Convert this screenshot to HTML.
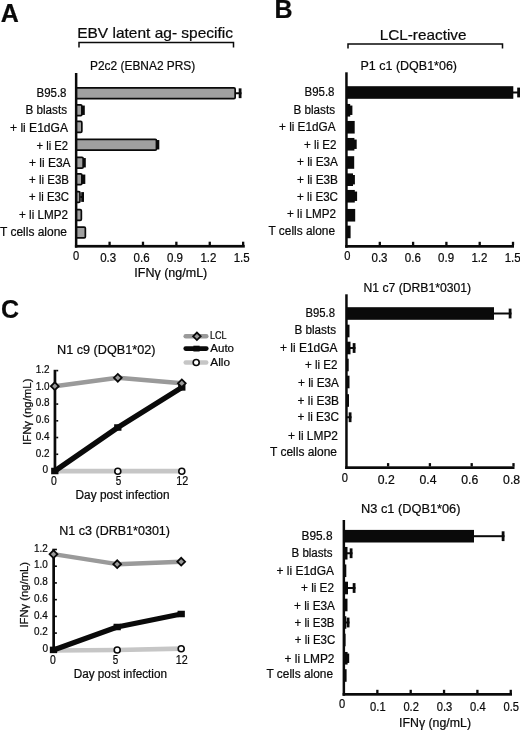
<!DOCTYPE html>
<html lang="en">
<head>
<meta charset="utf-8">
<title>Figure</title>
<style>
html,body{margin:0;padding:0;background:#fff;}
body{width:520px;height:731px;overflow:hidden;}
svg{display:block;}
svg text{font-family:"Liberation Sans",sans-serif;fill:#0a0a0a;stroke:#0a0a0a;stroke-width:0.22px;}
</style>
</head>
<body>
<svg width="520" height="731" viewBox="0 0 520 731">
<rect x="0" y="0" width="520" height="731" fill="#ffffff"/>
<text x="0.8" y="21.7" font-size="25" font-weight="bold" stroke="none">A</text>
<text x="274.4" y="18.1" font-size="25" font-weight="bold" stroke="none">B</text>
<text x="1.0" y="317.9" font-size="25" font-weight="bold" stroke="none">C</text>
<text x="77.2" y="38.4" font-size="15" textLength="155.8" lengthAdjust="spacingAndGlyphs">EBV latent ag- specific</text>
<path d="M79 47.5V42.5H233.5V47.5" fill="none" stroke="#0a0a0a" stroke-width="1.5"/>
<text x="379.7" y="39.6" font-size="15" textLength="86.8" lengthAdjust="spacingAndGlyphs">LCL-reactive</text>
<path d="M348 48.5V44H502.5V48.5" fill="none" stroke="#0a0a0a" stroke-width="1.5"/>
<text x="90.0" y="69.8" font-size="12.5" textLength="105.3" lengthAdjust="spacingAndGlyphs">P2c2 (EBNA2 PRS)</text>
<text x="36.5" y="96.9" font-size="12" textLength="30.0" lengthAdjust="spacingAndGlyphs">B95.8</text>
<text x="25.5" y="114.0" font-size="12" textLength="41.5" lengthAdjust="spacingAndGlyphs">B blasts</text>
<text x="10.0" y="132.0" font-size="12" textLength="58.0" lengthAdjust="spacingAndGlyphs">+ li E1dGA</text>
<text x="36.5" y="149.5" font-size="12" textLength="31.5" lengthAdjust="spacingAndGlyphs">+ li E2</text>
<text x="29.0" y="167.0" font-size="12" textLength="41.5" lengthAdjust="spacingAndGlyphs">+ li E3A</text>
<text x="29.0" y="184.0" font-size="12" textLength="40.0" lengthAdjust="spacingAndGlyphs">+ li E3B</text>
<text x="29.0" y="201.0" font-size="12" textLength="40.0" lengthAdjust="spacingAndGlyphs">+ li E3C</text>
<text x="19.0" y="219.0" font-size="12" textLength="49.0" lengthAdjust="spacingAndGlyphs">+ li LMP2</text>
<text x="0.0" y="235.5" font-size="12" textLength="67.0" lengthAdjust="spacingAndGlyphs">T cells alone</text>
<line x1="235.50" y1="93.25" x2="241.50" y2="93.25" stroke="#0a0a0a" stroke-width="2.0" stroke-linecap="butt"/>
<line x1="240.10" y1="88.35" x2="240.10" y2="98.15" stroke="#0a0a0a" stroke-width="2.8" stroke-linecap="butt"/>
<rect x="75.90" y="87.80" width="159.25" height="10.90" rx="1.2" fill="#a0a0a0" stroke="#0a0a0a" stroke-width="1.7"/>
<rect x="81.90" y="105.55" width="2.90" height="9.40" fill="#0a0a0a"/>
<rect x="75.90" y="104.80" width="5.95" height="10.90" rx="1.2" fill="#a0a0a0" stroke="#0a0a0a" stroke-width="1.7"/>
<rect x="75.90" y="121.45" width="5.95" height="10.90" rx="1.2" fill="#a0a0a0" stroke="#0a0a0a" stroke-width="1.7"/>
<rect x="156.50" y="140.05" width="2.80" height="9.40" fill="#0a0a0a"/>
<rect x="75.90" y="139.30" width="80.55" height="10.90" rx="1.2" fill="#a0a0a0" stroke="#0a0a0a" stroke-width="1.7"/>
<rect x="83.20" y="158.05" width="2.60" height="9.40" fill="#0a0a0a"/>
<rect x="75.90" y="157.30" width="7.25" height="10.90" rx="1.2" fill="#a0a0a0" stroke="#0a0a0a" stroke-width="1.7"/>
<rect x="81.90" y="174.55" width="3.40" height="9.40" fill="#0a0a0a"/>
<rect x="75.90" y="173.80" width="5.95" height="10.90" rx="1.2" fill="#a0a0a0" stroke="#0a0a0a" stroke-width="1.7"/>
<line x1="80.30" y1="197.00" x2="84.00" y2="197.00" stroke="#0a0a0a" stroke-width="2.0" stroke-linecap="butt"/>
<line x1="82.60" y1="192.10" x2="82.60" y2="201.90" stroke="#0a0a0a" stroke-width="2.8" stroke-linecap="butt"/>
<rect x="75.90" y="191.55" width="4.05" height="10.90" rx="1.2" fill="#a0a0a0" stroke="#0a0a0a" stroke-width="1.7"/>
<rect x="75.90" y="209.55" width="5.45" height="10.90" rx="1.2" fill="#a0a0a0" stroke="#0a0a0a" stroke-width="1.7"/>
<rect x="75.90" y="227.05" width="9.45" height="10.90" rx="1.2" fill="#a0a0a0" stroke="#0a0a0a" stroke-width="1.7"/>
<rect x="74.90" y="73.00" width="2.50" height="174.60" fill="#0a0a0a"/>
<rect x="74.90" y="244.90" width="169.90" height="2.70" fill="#0a0a0a"/>
<text x="72.9" y="259.7" font-size="12" textLength="6.2" lengthAdjust="spacingAndGlyphs">0</text>
<rect x="108.44" y="241.70" width="2.30" height="3.40" fill="#0a0a0a"/>
<text x="100.2" y="261.5" font-size="12" textLength="16.0" lengthAdjust="spacingAndGlyphs">0.3</text>
<rect x="141.83" y="241.70" width="2.30" height="3.40" fill="#0a0a0a"/>
<text x="133.6" y="261.5" font-size="12" textLength="16.0" lengthAdjust="spacingAndGlyphs">0.6</text>
<rect x="175.22" y="241.70" width="2.30" height="3.40" fill="#0a0a0a"/>
<text x="167.0" y="261.5" font-size="12" textLength="16.0" lengthAdjust="spacingAndGlyphs">0.9</text>
<rect x="208.61" y="241.70" width="2.30" height="3.40" fill="#0a0a0a"/>
<text x="200.4" y="261.5" font-size="12" textLength="16.0" lengthAdjust="spacingAndGlyphs">1.2</text>
<rect x="242.00" y="241.70" width="2.30" height="3.40" fill="#0a0a0a"/>
<text x="233.7" y="261.5" font-size="12" textLength="16.0" lengthAdjust="spacingAndGlyphs">1.5</text>
<text x="134.3" y="276.5" font-size="12" textLength="73.0" lengthAdjust="spacingAndGlyphs">IFNγ (ng/mL)</text>
<text x="360.5" y="70.0" font-size="12.5" textLength="96.5" lengthAdjust="spacingAndGlyphs">P1 c1 (DQB1*06)</text>
<text x="304.5" y="96.2" font-size="12" textLength="30.0" lengthAdjust="spacingAndGlyphs">B95.8</text>
<text x="293.5" y="113.6" font-size="12" textLength="41.5" lengthAdjust="spacingAndGlyphs">B blasts</text>
<text x="279.0" y="131.1" font-size="12" textLength="56.5" lengthAdjust="spacingAndGlyphs">+ li E1dGA</text>
<text x="304.0" y="148.8" font-size="12" textLength="32.5" lengthAdjust="spacingAndGlyphs">+ li E2</text>
<text x="297.0" y="166.4" font-size="12" textLength="41.0" lengthAdjust="spacingAndGlyphs">+ li E3A</text>
<text x="297.0" y="183.5" font-size="12" textLength="41.0" lengthAdjust="spacingAndGlyphs">+ li E3B</text>
<text x="297.0" y="200.5" font-size="12" textLength="41.0" lengthAdjust="spacingAndGlyphs">+ li E3C</text>
<text x="287.0" y="218.0" font-size="12" textLength="49.0" lengthAdjust="spacingAndGlyphs">+ li LMP2</text>
<text x="268.5" y="234.5" font-size="12" textLength="66.5" lengthAdjust="spacingAndGlyphs">T cells alone</text>
<line x1="512.80" y1="92.50" x2="520.00" y2="92.50" stroke="#0a0a0a" stroke-width="2.0" stroke-linecap="butt"/>
<line x1="518.60" y1="87.60" x2="518.60" y2="97.40" stroke="#0a0a0a" stroke-width="2.8" stroke-linecap="butt"/>
<rect x="346.20" y="86.20" width="167.10" height="12.60" fill="#0a0a0a"/>
<rect x="349.40" y="105.55" width="3.00" height="9.40" fill="#0a0a0a"/>
<rect x="346.20" y="103.95" width="4.00" height="12.60" fill="#0a0a0a"/>
<rect x="346.20" y="120.95" width="8.50" height="12.60" fill="#0a0a0a"/>
<rect x="353.60" y="139.55" width="3.10" height="9.40" fill="#0a0a0a"/>
<rect x="346.20" y="137.95" width="8.20" height="12.60" fill="#0a0a0a"/>
<rect x="346.20" y="156.20" width="8.00" height="12.60" fill="#0a0a0a"/>
<rect x="352.20" y="175.00" width="2.70" height="9.40" fill="#0a0a0a"/>
<rect x="346.20" y="173.40" width="6.80" height="12.60" fill="#0a0a0a"/>
<rect x="354.00" y="191.55" width="3.10" height="9.40" fill="#0a0a0a"/>
<rect x="346.20" y="189.95" width="8.60" height="12.60" fill="#0a0a0a"/>
<rect x="346.20" y="208.95" width="9.00" height="12.60" fill="#0a0a0a"/>
<rect x="346.20" y="225.65" width="4.40" height="12.60" fill="#0a0a0a"/>
<rect x="345.20" y="72.30" width="2.50" height="175.40" fill="#0a0a0a"/>
<rect x="345.20" y="245.00" width="168.80" height="2.70" fill="#0a0a0a"/>
<text x="344.3" y="260.4" font-size="12" textLength="6.2" lengthAdjust="spacingAndGlyphs">0</text>
<rect x="378.65" y="241.80" width="2.30" height="3.40" fill="#0a0a0a"/>
<text x="371.5" y="262.0" font-size="12" textLength="16.0" lengthAdjust="spacingAndGlyphs">0.3</text>
<rect x="411.95" y="241.80" width="2.30" height="3.40" fill="#0a0a0a"/>
<text x="404.8" y="262.0" font-size="12" textLength="16.0" lengthAdjust="spacingAndGlyphs">0.6</text>
<rect x="445.25" y="241.80" width="2.30" height="3.40" fill="#0a0a0a"/>
<text x="438.1" y="262.0" font-size="12" textLength="16.0" lengthAdjust="spacingAndGlyphs">0.9</text>
<rect x="478.55" y="241.80" width="2.30" height="3.40" fill="#0a0a0a"/>
<text x="471.4" y="262.0" font-size="12" textLength="16.0" lengthAdjust="spacingAndGlyphs">1.2</text>
<rect x="511.85" y="241.80" width="2.30" height="3.40" fill="#0a0a0a"/>
<text x="504.7" y="262.0" font-size="12" textLength="16.0" lengthAdjust="spacingAndGlyphs">1.5</text>
<text x="363.5" y="291.5" font-size="12.5" textLength="107.5" lengthAdjust="spacingAndGlyphs">N1 c7 (DRB1*0301)</text>
<text x="305.5" y="316.8" font-size="12" textLength="29.5" lengthAdjust="spacingAndGlyphs">B95.8</text>
<text x="294.5" y="334.1" font-size="12" textLength="41.5" lengthAdjust="spacingAndGlyphs">B blasts</text>
<text x="280.0" y="352.1" font-size="12" textLength="57.5" lengthAdjust="spacingAndGlyphs">+ li E1dGA</text>
<text x="305.0" y="369.2" font-size="12" textLength="32.5" lengthAdjust="spacingAndGlyphs">+ li E2</text>
<text x="298.0" y="387.0" font-size="12" textLength="41.0" lengthAdjust="spacingAndGlyphs">+ li E3A</text>
<text x="297.5" y="404.5" font-size="12" textLength="41.5" lengthAdjust="spacingAndGlyphs">+ li E3B</text>
<text x="297.5" y="421.0" font-size="12" textLength="41.5" lengthAdjust="spacingAndGlyphs">+ li E3C</text>
<text x="288.0" y="440.0" font-size="12" textLength="50.0" lengthAdjust="spacingAndGlyphs">+ li LMP2</text>
<text x="270.0" y="455.5" font-size="12" textLength="67.0" lengthAdjust="spacingAndGlyphs">T cells alone</text>
<line x1="493.50" y1="313.50" x2="511.50" y2="313.50" stroke="#0a0a0a" stroke-width="2.0" stroke-linecap="butt"/>
<line x1="510.10" y1="308.60" x2="510.10" y2="318.40" stroke="#0a0a0a" stroke-width="2.8" stroke-linecap="butt"/>
<rect x="346.20" y="307.20" width="147.80" height="12.60" fill="#0a0a0a"/>
<rect x="346.20" y="324.70" width="3.30" height="12.60" fill="#0a0a0a"/>
<line x1="350.00" y1="348.00" x2="355.50" y2="348.00" stroke="#0a0a0a" stroke-width="2.0" stroke-linecap="butt"/>
<line x1="354.10" y1="343.10" x2="354.10" y2="352.90" stroke="#0a0a0a" stroke-width="2.8" stroke-linecap="butt"/>
<rect x="346.20" y="341.70" width="4.30" height="12.60" fill="#0a0a0a"/>
<rect x="346.20" y="358.70" width="2.50" height="12.60" fill="#0a0a0a"/>
<rect x="346.20" y="375.70" width="3.30" height="12.60" fill="#0a0a0a"/>
<rect x="346.20" y="394.20" width="2.80" height="12.60" fill="#0a0a0a"/>
<line x1="347.00" y1="417.25" x2="351.50" y2="417.25" stroke="#0a0a0a" stroke-width="2.0" stroke-linecap="butt"/>
<line x1="350.10" y1="412.35" x2="350.10" y2="422.15" stroke="#0a0a0a" stroke-width="2.8" stroke-linecap="butt"/>
<rect x="345.20" y="294.30" width="2.50" height="174.70" fill="#0a0a0a"/>
<rect x="345.20" y="466.30" width="169.30" height="2.70" fill="#0a0a0a"/>
<text x="341.7" y="482.2" font-size="12" textLength="6.2" lengthAdjust="spacingAndGlyphs">0</text>
<rect x="386.95" y="463.10" width="2.30" height="3.40" fill="#0a0a0a"/>
<text x="377.7" y="483.7" font-size="12" textLength="17.0" lengthAdjust="spacingAndGlyphs">0.2</text>
<rect x="428.75" y="463.10" width="2.30" height="3.40" fill="#0a0a0a"/>
<text x="419.5" y="483.7" font-size="12" textLength="17.0" lengthAdjust="spacingAndGlyphs">0.4</text>
<rect x="470.55" y="463.10" width="2.30" height="3.40" fill="#0a0a0a"/>
<text x="461.3" y="483.7" font-size="12" textLength="17.0" lengthAdjust="spacingAndGlyphs">0.6</text>
<rect x="512.35" y="463.10" width="2.30" height="3.40" fill="#0a0a0a"/>
<text x="503.1" y="483.7" font-size="12" textLength="17.0" lengthAdjust="spacingAndGlyphs">0.8</text>
<text x="361.0" y="513.3" font-size="12.5" textLength="99.5" lengthAdjust="spacingAndGlyphs">N3 c1 (DQB1*06)</text>
<text x="301.5" y="540.0" font-size="12" textLength="31.0" lengthAdjust="spacingAndGlyphs">B95.8</text>
<text x="291.5" y="557.0" font-size="12" textLength="41.0" lengthAdjust="spacingAndGlyphs">B blasts</text>
<text x="276.5" y="574.5" font-size="12" textLength="57.5" lengthAdjust="spacingAndGlyphs">+ li E1dGA</text>
<text x="301.0" y="592.0" font-size="12" textLength="33.0" lengthAdjust="spacingAndGlyphs">+ li E2</text>
<text x="294.0" y="609.5" font-size="12" textLength="41.0" lengthAdjust="spacingAndGlyphs">+ li E3A</text>
<text x="294.5" y="626.5" font-size="12" textLength="40.0" lengthAdjust="spacingAndGlyphs">+ li E3B</text>
<text x="294.8" y="643.9" font-size="12" textLength="40.5" lengthAdjust="spacingAndGlyphs">+ li E3C</text>
<text x="284.5" y="662.7" font-size="12" textLength="50.0" lengthAdjust="spacingAndGlyphs">+ li LMP2</text>
<text x="266.5" y="678.1" font-size="12" textLength="66.5" lengthAdjust="spacingAndGlyphs">T cells alone</text>
<line x1="473.50" y1="536.20" x2="504.50" y2="536.20" stroke="#0a0a0a" stroke-width="2.0" stroke-linecap="butt"/>
<line x1="503.10" y1="531.30" x2="503.10" y2="541.10" stroke="#0a0a0a" stroke-width="2.8" stroke-linecap="butt"/>
<rect x="343.60" y="529.90" width="130.40" height="12.60" fill="#0a0a0a"/>
<line x1="347.00" y1="553.25" x2="352.50" y2="553.25" stroke="#0a0a0a" stroke-width="2.0" stroke-linecap="butt"/>
<line x1="351.10" y1="548.35" x2="351.10" y2="558.15" stroke="#0a0a0a" stroke-width="2.8" stroke-linecap="butt"/>
<rect x="343.60" y="546.95" width="3.90" height="12.60" fill="#0a0a0a"/>
<rect x="343.60" y="564.45" width="2.70" height="12.60" fill="#0a0a0a"/>
<line x1="347.50" y1="588.00" x2="355.50" y2="588.00" stroke="#0a0a0a" stroke-width="2.0" stroke-linecap="butt"/>
<line x1="354.10" y1="583.10" x2="354.10" y2="592.90" stroke="#0a0a0a" stroke-width="2.8" stroke-linecap="butt"/>
<rect x="343.60" y="581.70" width="4.40" height="12.60" fill="#0a0a0a"/>
<rect x="343.60" y="598.70" width="3.90" height="12.60" fill="#0a0a0a"/>
<line x1="345.80" y1="622.50" x2="349.50" y2="622.50" stroke="#0a0a0a" stroke-width="2.0" stroke-linecap="butt"/>
<line x1="348.10" y1="617.60" x2="348.10" y2="627.40" stroke="#0a0a0a" stroke-width="2.8" stroke-linecap="butt"/>
<rect x="343.60" y="616.20" width="2.70" height="12.60" fill="#0a0a0a"/>
<rect x="343.60" y="633.70" width="2.00" height="12.60" fill="#0a0a0a"/>
<rect x="346.80" y="653.55" width="2.40" height="9.40" fill="#0a0a0a"/>
<rect x="343.60" y="651.95" width="4.00" height="12.60" fill="#0a0a0a"/>
<rect x="343.60" y="669.20" width="3.00" height="12.60" fill="#0a0a0a"/>
<rect x="342.60" y="520.00" width="2.50" height="175.70" fill="#0a0a0a"/>
<rect x="342.60" y="693.00" width="169.40" height="2.70" fill="#0a0a0a"/>
<text x="339.1" y="708.2" font-size="12" textLength="6.2" lengthAdjust="spacingAndGlyphs">0</text>
<rect x="376.20" y="689.80" width="2.30" height="3.40" fill="#0a0a0a"/>
<text x="370.1" y="710.9" font-size="12" textLength="15.5" lengthAdjust="spacingAndGlyphs">0.1</text>
<rect x="409.55" y="689.80" width="2.30" height="3.40" fill="#0a0a0a"/>
<text x="403.4" y="710.9" font-size="12" textLength="15.5" lengthAdjust="spacingAndGlyphs">0.2</text>
<rect x="442.90" y="689.80" width="2.30" height="3.40" fill="#0a0a0a"/>
<text x="436.8" y="710.9" font-size="12" textLength="15.5" lengthAdjust="spacingAndGlyphs">0.3</text>
<rect x="476.25" y="689.80" width="2.30" height="3.40" fill="#0a0a0a"/>
<text x="470.1" y="710.9" font-size="12" textLength="15.5" lengthAdjust="spacingAndGlyphs">0.4</text>
<rect x="509.60" y="689.80" width="2.30" height="3.40" fill="#0a0a0a"/>
<text x="503.5" y="710.9" font-size="12" textLength="15.5" lengthAdjust="spacingAndGlyphs">0.5</text>
<text x="399.0" y="726.6" font-size="12.5" textLength="72.0" lengthAdjust="spacingAndGlyphs">IFNγ (ng/mL)</text>
<text x="57.0" y="353.8" font-size="12.5" textLength="98.5" lengthAdjust="spacingAndGlyphs">N1 c9 (DQB1*02)</text>
<polyline points="54.8,471.2 117.8,471.2 181.8,471.2" fill="none" stroke="#c6c6c6" stroke-width="4.7" stroke-linejoin="round" stroke-linecap="butt"/>
<polyline points="54.8,386.2 117.8,377.8 181.8,383.3" fill="none" stroke="#9a9a9a" stroke-width="4.4" stroke-linejoin="round" stroke-linecap="butt"/>
<rect x="53.60" y="369.80" width="2.70" height="103.20" fill="#0a0a0a"/>
<rect x="56.20" y="470.20" width="2.00" height="1.60" fill="#0a0a0a"/>
<text x="42.4" y="473.3" font-size="11" textLength="5.6" lengthAdjust="spacingAndGlyphs">0</text>
<rect x="56.20" y="453.47" width="2.00" height="1.60" fill="#0a0a0a"/>
<text x="35.7" y="456.5" font-size="11" textLength="13.8" lengthAdjust="spacingAndGlyphs">0.2</text>
<rect x="56.20" y="436.73" width="2.00" height="1.60" fill="#0a0a0a"/>
<text x="35.7" y="439.7" font-size="11" textLength="13.8" lengthAdjust="spacingAndGlyphs">0.4</text>
<rect x="56.20" y="420.00" width="2.00" height="1.60" fill="#0a0a0a"/>
<text x="35.7" y="423.0" font-size="11" textLength="13.8" lengthAdjust="spacingAndGlyphs">0.6</text>
<rect x="56.20" y="403.27" width="2.00" height="1.60" fill="#0a0a0a"/>
<text x="35.7" y="406.3" font-size="11" textLength="13.8" lengthAdjust="spacingAndGlyphs">0.8</text>
<rect x="56.20" y="386.53" width="2.00" height="1.60" fill="#0a0a0a"/>
<text x="35.7" y="389.5" font-size="11" textLength="13.8" lengthAdjust="spacingAndGlyphs">1.0</text>
<rect x="56.20" y="369.80" width="2.00" height="1.60" fill="#0a0a0a"/>
<text x="35.7" y="372.8" font-size="11" textLength="13.8" lengthAdjust="spacingAndGlyphs">1.2</text>
<polyline points="54.8,471.0 117.8,427.5 181.8,387.4" fill="none" stroke="#0a0a0a" stroke-width="5.3" stroke-linejoin="round" stroke-linecap="butt"/>
<rect x="51.15" y="467.75" width="7.30" height="6.50" fill="#0a0a0a"/>
<rect x="114.15" y="424.25" width="7.30" height="6.50" fill="#0a0a0a"/>
<rect x="178.15" y="384.15" width="7.30" height="6.50" fill="#0a0a0a"/>
<path d="M50.9 386.2L54.8 382.3L58.7 386.2L54.8 390.1Z" fill="#9a9a9a" stroke="#0a0a0a" stroke-width="1.8"/>
<path d="M113.9 377.8L117.8 373.9L121.7 377.8L117.8 381.7Z" fill="#9a9a9a" stroke="#0a0a0a" stroke-width="1.8"/>
<path d="M177.9 383.3L181.8 379.4L185.7 383.3L181.8 387.2Z" fill="#9a9a9a" stroke="#0a0a0a" stroke-width="1.8"/>
<circle cx="117.8" cy="471.2" r="3" fill="#fff" stroke="#0a0a0a" stroke-width="1.6"/>
<circle cx="181.8" cy="471.2" r="3" fill="#fff" stroke="#0a0a0a" stroke-width="1.6"/>
<text x="51.0" y="485.2" font-size="12" textLength="5.8" lengthAdjust="spacingAndGlyphs">0</text>
<text x="115.7" y="485.2" font-size="12" textLength="5.5" lengthAdjust="spacingAndGlyphs">5</text>
<text x="176.3" y="485.2" font-size="12" textLength="12.0" lengthAdjust="spacingAndGlyphs">12</text>
<text x="75.6" y="498.6" font-size="12" textLength="93.9" lengthAdjust="spacingAndGlyphs">Day post infection</text>
<text transform="translate(31.0 445.0) rotate(-90)" font-size="11" textLength="66.5" lengthAdjust="spacingAndGlyphs">IFNγ (ng/mL)</text>
<text x="59.3" y="535.0" font-size="12.5" textLength="110.7" lengthAdjust="spacingAndGlyphs">N1 c3 (DRB1*0301)</text>
<polyline points="53.5,650.5 117.2,650.0 181.2,648.7" fill="none" stroke="#c6c6c6" stroke-width="4.7" stroke-linejoin="round" stroke-linecap="butt"/>
<polyline points="53.5,554.2 117.2,564.2 181.2,561.7" fill="none" stroke="#9a9a9a" stroke-width="4.4" stroke-linejoin="round" stroke-linecap="butt"/>
<rect x="52.30" y="548.70" width="2.70" height="103.10" fill="#0a0a0a"/>
<rect x="54.90" y="649.00" width="2.00" height="1.60" fill="#0a0a0a"/>
<text x="42.6" y="652.1" font-size="11" textLength="5.6" lengthAdjust="spacingAndGlyphs">0</text>
<rect x="54.90" y="632.28" width="2.00" height="1.60" fill="#0a0a0a"/>
<text x="34.0" y="635.3" font-size="11" textLength="13.8" lengthAdjust="spacingAndGlyphs">0.2</text>
<rect x="54.90" y="615.57" width="2.00" height="1.60" fill="#0a0a0a"/>
<text x="34.0" y="618.6" font-size="11" textLength="13.8" lengthAdjust="spacingAndGlyphs">0.4</text>
<rect x="54.90" y="598.85" width="2.00" height="1.60" fill="#0a0a0a"/>
<text x="34.0" y="601.9" font-size="11" textLength="13.8" lengthAdjust="spacingAndGlyphs">0.6</text>
<rect x="54.90" y="582.13" width="2.00" height="1.60" fill="#0a0a0a"/>
<text x="34.0" y="585.1" font-size="11" textLength="13.8" lengthAdjust="spacingAndGlyphs">0.8</text>
<rect x="54.90" y="565.42" width="2.00" height="1.60" fill="#0a0a0a"/>
<text x="34.0" y="568.4" font-size="11" textLength="13.8" lengthAdjust="spacingAndGlyphs">1.0</text>
<rect x="54.90" y="548.70" width="2.00" height="1.60" fill="#0a0a0a"/>
<text x="34.0" y="551.7" font-size="11" textLength="13.8" lengthAdjust="spacingAndGlyphs">1.2</text>
<polyline points="53.5,649.9 117.2,627.0 181.2,614.0" fill="none" stroke="#0a0a0a" stroke-width="5.3" stroke-linejoin="round" stroke-linecap="butt"/>
<rect x="49.85" y="646.65" width="7.30" height="6.50" fill="#0a0a0a"/>
<rect x="113.55" y="623.75" width="7.30" height="6.50" fill="#0a0a0a"/>
<rect x="177.55" y="610.75" width="7.30" height="6.50" fill="#0a0a0a"/>
<path d="M49.6 554.2L53.5 550.3L57.4 554.2L53.5 558.1Z" fill="#9a9a9a" stroke="#0a0a0a" stroke-width="1.8"/>
<path d="M113.3 564.2L117.2 560.3L121.1 564.2L117.2 568.1Z" fill="#9a9a9a" stroke="#0a0a0a" stroke-width="1.8"/>
<path d="M177.3 561.7L181.2 557.8L185.1 561.7L181.2 565.6Z" fill="#9a9a9a" stroke="#0a0a0a" stroke-width="1.8"/>
<circle cx="117.2" cy="650.0" r="3" fill="#fff" stroke="#0a0a0a" stroke-width="1.6"/>
<circle cx="181.2" cy="648.7" r="3" fill="#fff" stroke="#0a0a0a" stroke-width="1.6"/>
<text x="50.1" y="663.8" font-size="12" textLength="5.8" lengthAdjust="spacingAndGlyphs">0</text>
<text x="112.8" y="663.8" font-size="12" textLength="5.5" lengthAdjust="spacingAndGlyphs">5</text>
<text x="175.7" y="663.8" font-size="12" textLength="12.0" lengthAdjust="spacingAndGlyphs">12</text>
<text x="73.7" y="678.0" font-size="12" textLength="93.3" lengthAdjust="spacingAndGlyphs">Day post infection</text>
<text transform="translate(28.2 627.6) rotate(-90)" font-size="11" textLength="65.6" lengthAdjust="spacingAndGlyphs">IFNγ (ng/mL)</text>
<line x1="185.70" y1="336.30" x2="206.30" y2="336.30" stroke="#9a9a9a" stroke-width="4.5" stroke-linecap="round"/>
<path d="M193.1 336.3L196.9 332.5L200.7 336.3L196.9 340.1Z" fill="#9a9a9a" stroke="#0a0a0a" stroke-width="1.8"/>
<text x="210.0" y="339.2" font-size="11.3" textLength="16.6" lengthAdjust="spacingAndGlyphs">LCL</text>
<line x1="185.70" y1="348.60" x2="206.30" y2="348.60" stroke="#0a0a0a" stroke-width="4.6" stroke-linecap="round"/>
<rect x="193.40" y="345.70" width="6.20" height="5.80" fill="#0a0a0a"/>
<text x="210.3" y="351.5" font-size="11.3" textLength="23.7" lengthAdjust="spacingAndGlyphs">Auto</text>
<line x1="185.70" y1="362.50" x2="206.30" y2="362.50" stroke="#c6c6c6" stroke-width="4.4" stroke-linecap="round"/>
<circle cx="196.2" cy="362.5" r="3" fill="#fff" stroke="#0a0a0a" stroke-width="1.6"/>
<text x="210.3" y="365.6" font-size="11.3" textLength="19.7" lengthAdjust="spacingAndGlyphs">Allo</text>
</svg>
</body>
</html>
